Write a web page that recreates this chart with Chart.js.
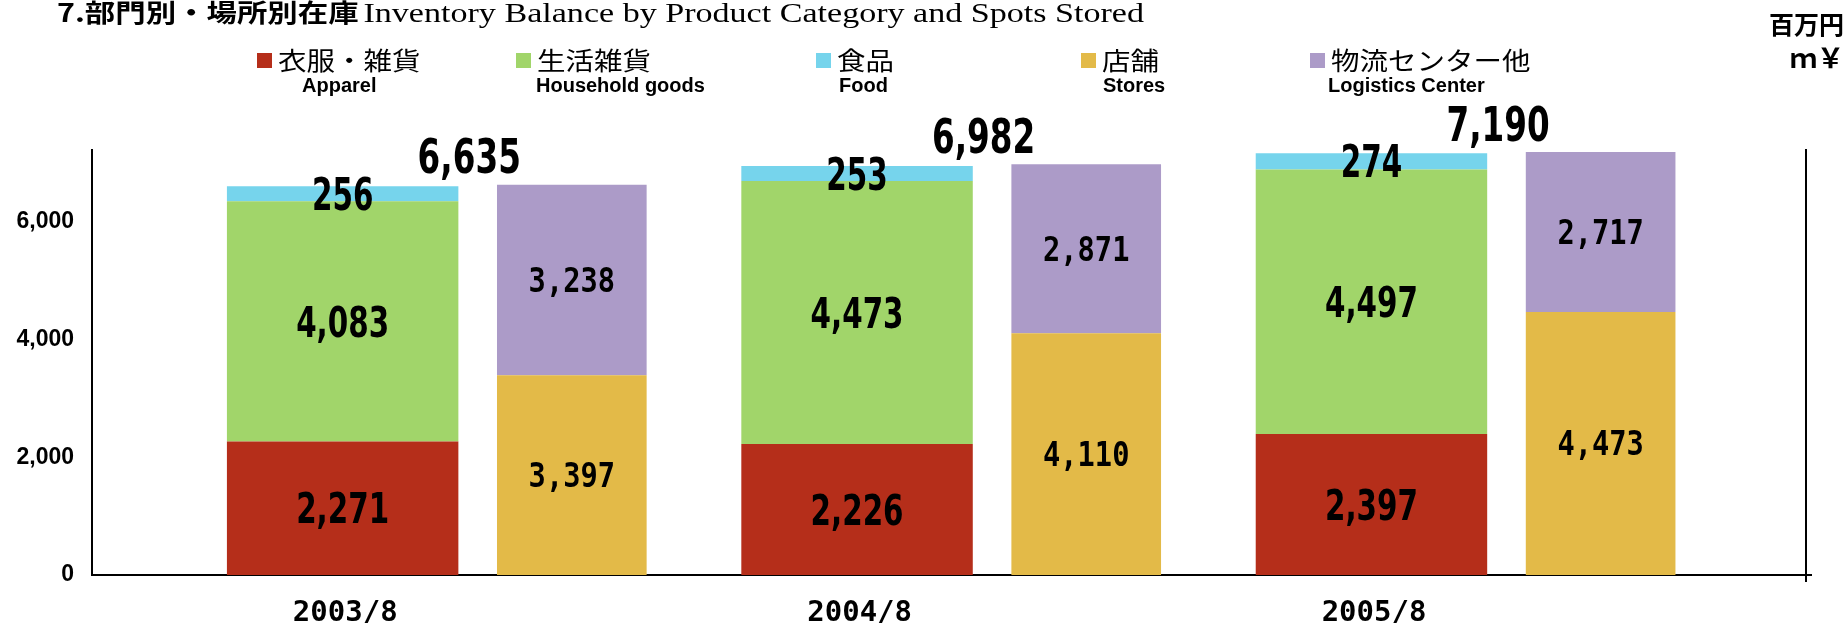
<!DOCTYPE html>
<html>
<head>
<meta charset="utf-8">
<script src="https://cdn.jsdelivr.net/npm/chart.js@4.4.1/dist/chart.umd.min.js"></script>
<style>
  body { margin: 0; background: #fff; }
  #wrap { position: relative; width: 1847px; height: 623px; overflow: hidden; }
  #chart { position: absolute; left: 0; top: 0; }
  .title { position: absolute; left: 57px; top: -4px; white-space: nowrap; line-height: 30px; transform-origin: 0 50%; }
  .title .ja { font-family: "Noto Sans CJK JP"; font-weight: bold; font-size: 25px; }
  .title .en { font-family: "Liberation Serif"; font-size: 28px; }
  .lg-box { position: absolute; top: 53px; width: 15px; height: 15px; }
  .lg-ja { position: absolute; top: 45px; font-family: "Noto Sans CJK JP"; font-size: 25px; line-height: 28px; white-space: nowrap; transform-origin: 0 50%; transform: scaleX(1.14); }
  .lg-en { position: absolute; top: 74px; font-family: "Liberation Sans"; font-weight: bold; font-size: 20px; line-height: 22px; white-space: nowrap; }
  .unit { position: absolute; right: 3px; font-family: "Noto Sans CJK JP"; font-weight: bold; white-space: nowrap; text-align: right; }
</style>
</head>
<body>
<div id="wrap">
  <canvas id="chart" width="1847" height="623"></canvas>
  <div class="title" id="title"><span class="ja">7.部門別・場所別在庫</span> <span class="en">Inventory Balance by Product Category and Spots Stored</span></div>
  <div id="legend"></div>
  <div class="unit" style="top:8px;font-size:25px;line-height:30px;">百万円</div>
  <div class="unit" style="top:42px;font-size:27px;line-height:30px;">ｍ￥</div>
</div>
<script>
// data
const periods = ['2003/8', '2004/8', '2005/8'];
const apparel = [2271, 2226, 2397];
const household = [4083, 4473, 4497];
const food = [256, 253, 274];
const stores = [3397, 4110, 4473];
const logistics = [3238, 2871, 2717];
const totals = [6635, 6982, 7190];
const yTicks = [0, 2000, 4000, 6000];

const namesJa = ['衣服・雑貨', '生活雑貨', '食品', '店舗', '物流センター他'];
const namesEn = ['Apparel', 'Household goods', 'Food', 'Stores', 'Logistics Center'];
const colors = ['#b52e1a', '#a1d56a', '#76d4ec', '#e3ba48', '#ac9bc8'];

// legend placement (px)
const legendBoxX = [257, 516, 816, 1081, 1310];
const legendEnX = [302, 536, 839, 1103, 1328];

// title stretched to the width it has in the original
const title = document.getElementById('title');
title.style.transform = 'scaleX(' + (1087 / title.getBoundingClientRect().width) + ')';

const legend = document.getElementById('legend');
namesJa.forEach((n, i) => {
  const box = document.createElement('div');
  box.className = 'lg-box';
  box.style.left = legendBoxX[i] + 'px';
  box.style.background = colors[i];
  legend.appendChild(box);
  const ja = document.createElement('div');
  ja.className = 'lg-ja';
  ja.style.left = (legendBoxX[i] + 21) + 'px';
  ja.textContent = n;
  legend.appendChild(ja);
  const en = document.createElement('div');
  en.className = 'lg-en';
  en.style.left = legendEnX[i] + 'px';
  en.textContent = namesEn[i];
  legend.appendChild(en);
});

const condFont = { font: 'bold 42px "DejaVu Sans"', size: 42, sx: 0.70 };
const foodFont = { font: 'bold 44px "DejaVu Sans"', size: 44, sx: 0.67 };
const monoFont = { font: 'bold 33px "DejaVu Sans Mono"', size: 33, sx: 0.87 };
const totalFont = { font: 'bold 48px "DejaVu Sans"', size: 48, sx: 0.68 };
const labelFonts = [condFont, condFont, foodFont, monoFont, monoFont];

function drawSquashed(ctx, text, x, y, f) {
  ctx.save();
  ctx.font = f.font;
  ctx.fillStyle = '#000';
  ctx.textAlign = 'center';
  ctx.textBaseline = 'alphabetic';
  ctx.translate(x, y + f.size * 0.364);
  ctx.scale(f.sx, 1);
  ctx.fillText(text, 0, 0);
  ctx.restore();
}

const valueLabels = {
  id: 'valueLabels',
  afterDatasetsDraw(chart) {
    const ctx = chart.ctx;
    chart.data.datasets.forEach((ds, di) => {
      chart.getDatasetMeta(di).data.forEach((bar, i) => {
        drawSquashed(ctx, ds.data[i].y.toLocaleString('en-US'), bar.x, (bar.y + bar.base) / 2, labelFonts[di]);
      });
    });
    const xs = chart.scales.x, ys = chart.scales.y;
    totals.forEach((t, i) => {
      drawSquashed(ctx, t.toLocaleString('en-US'), xs.getPixelForValue(i) + 12, ys.getPixelForValue(t) - 29, totalFont);
    });
  },
  afterDraw(chart) {
    const ctx = chart.ctx, a = chart.chartArea;
    ctx.save();
    ctx.strokeStyle = '#000';
    ctx.lineWidth = 2;
    ctx.beginPath();
    ctx.moveTo(a.right, a.bottom);
    ctx.lineTo(a.right + 6, a.bottom);
    ctx.moveTo(a.right, a.bottom);
    ctx.lineTo(a.right, a.bottom + 7);
    ctx.stroke();
    ctx.restore();
  }
};

const series = [apparel, household, food, stores, logistics];
const datasets = series.map((vals, k) => ({
  label: namesJa[k] + ' ' + namesEn[k],
  data: vals.map((v, i) => ({ x: i, y: v })),
  backgroundColor: colors[k],
  borderWidth: 0,
  stack: k < 3 ? 'category' : 'place',
  categoryPercentage: 0.891,
  barPercentage: k < 3 ? 1.01 : 0.653
}));

new Chart(document.getElementById('chart'), {
  type: 'bar',
  data: { datasets: datasets },
  options: {
    responsive: false,
    animation: false,
    layout: { padding: { top: 150, left: 0, right: 0, bottom: 0 } },
    plugins: {
      legend: { display: false },
      tooltip: { enabled: false },
      title: { display: false }
    },
    scales: {
      x: {
        type: 'linear',
        min: -0.71,
        max: 2.622,
        bounds: 'data',
        offset: false,
        grid: { display: false },
        border: { color: '#000', width: 2 },
        afterBuildTicks: s => { s.ticks = periods.map((p, i) => ({ value: i })); },
        afterFit: s => { s.height = 48; },
        ticks: {
          callback: v => periods[v],
          labelOffset: -112,
          padding: 13,
          autoSkip: false,
          maxRotation: 0,
          color: '#000',
          font: { family: 'DejaVu Sans Mono', weight: 'bold', size: 29 }
        }
      },
      y: {
        stacked: true,
        min: 0,
        max: 7225,
        bounds: 'data',
        grid: { display: false },
        border: { color: '#000', width: 2 },
        afterBuildTicks: s => { s.ticks = yTicks.map(v => ({ value: v })); },
        afterFit: s => { s.width = 92; },
        ticks: {
          padding: 10,
          color: '#000',
          font: { family: 'Liberation Sans', weight: 'bold', size: 23 },
          callback: v => v.toLocaleString('en-US')
        }
      },
      y2: {
        type: 'linear',
        position: 'right',
        grid: { display: false },
        ticks: { display: false },
        border: { color: '#000', width: 2 },
        afterFit: s => { s.width = 41; }
      }
    }
  },
  plugins: [valueLabels]
});
</script>
</body>
</html>
